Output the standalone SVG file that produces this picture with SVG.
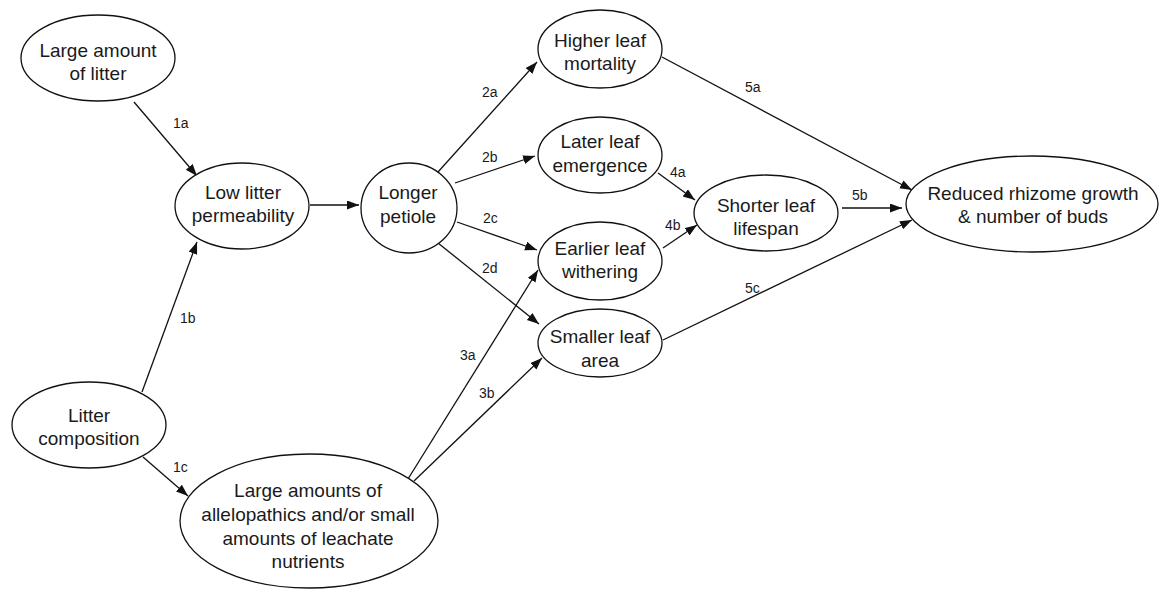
<svg xmlns="http://www.w3.org/2000/svg" width="1159" height="589" viewBox="0 0 1159 589">
<defs>
<marker id="arr" markerUnits="userSpaceOnUse" markerWidth="13" markerHeight="10" refX="12" refY="4.5" orient="auto">
<path d="M0,0 L12,4.5 L0,9 z" fill="#111"/>
</marker>
<style>
.n ellipse{fill:#fff;stroke:#111;stroke-width:1.3}
.n text{font-family:"Liberation Sans",Arial,sans-serif;font-size:19px;fill:#1a1a1a;text-anchor:middle}
#edges line{stroke:#111;stroke-width:1.3;marker-end:url(#arr)}
#edges text{font-family:"Liberation Sans",Arial,sans-serif;font-size:14px;fill:#1a1a1a}
</style>
</defs>
<rect width="1159" height="589" fill="#fff"/>
<g id="edges">
<line x1="134" y1="102" x2="197" y2="176"/>
<line x1="142" y1="392" x2="197" y2="242"/>
<line x1="143" y1="457" x2="188" y2="496"/>
<line x1="310" y1="205" x2="359" y2="205"/>
<line x1="438" y1="172" x2="537" y2="62"/>
<line x1="455" y1="183" x2="535" y2="156"/>
<line x1="457" y1="222" x2="537" y2="250"/>
<line x1="438" y1="243" x2="539" y2="324"/>
<line x1="408" y1="479" x2="538" y2="270"/>
<line x1="414" y1="481" x2="542" y2="358"/>
<line x1="658" y1="173" x2="695" y2="200"/>
<line x1="663" y1="248" x2="697" y2="225"/>
<line x1="662" y1="57" x2="912" y2="190"/>
<line x1="842" y1="208" x2="902" y2="208"/>
<line x1="663" y1="340" x2="912" y2="220"/>
<text x="173" y="128">1a</text>
<text x="180" y="323">1b</text>
<text x="173" y="472">1c</text>
<text x="482" y="97">2a</text>
<text x="482" y="162">2b</text>
<text x="483" y="223">2c</text>
<text x="482" y="273">2d</text>
<text x="460" y="360">3a</text>
<text x="479" y="398">3b</text>
<text x="670" y="177">4a</text>
<text x="665" y="230">4b</text>
<text x="745" y="92">5a</text>
<text x="852" y="200">5b</text>
<text x="745" y="293">5c</text>
</g>
<g id="n-large-litter" class="n"><ellipse cx="98" cy="58" rx="77" ry="43"/><text x="98" y="57">Large amount</text><text x="98" y="80">of litter</text></g>
<g id="n-low-perm" class="n"><ellipse cx="242" cy="206" rx="67" ry="43"/><text x="243" y="199">Low litter</text><text x="243" y="222">permeability</text></g>
<g id="n-composition" class="n"><ellipse cx="89" cy="425" rx="77" ry="43"/><text x="89" y="422">Litter</text><text x="89" y="445">composition</text></g>
<g id="n-allelo" class="n"><ellipse cx="309" cy="521" rx="129" ry="67"/><text x="308" y="497">Large amounts  of</text><text x="308" y="521">allelopathics  and/or  small</text><text x="308" y="545">amounts  of leachate</text><text x="308" y="568">nutrients</text></g>
<g id="n-petiole" class="n"><ellipse cx="409" cy="208" rx="48" ry="45"/><text x="408" y="199">Longer</text><text x="408" y="223">petiole</text></g>
<g id="n-mortality" class="n"><ellipse cx="600" cy="49" rx="62" ry="39"/><text x="600" y="47">Higher leaf</text><text x="600" y="70">mortality</text></g>
<g id="n-emergence" class="n"><ellipse cx="600" cy="155" rx="62" ry="38"/><text x="600" y="148">Later leaf</text><text x="600" y="172">emergence</text></g>
<g id="n-withering" class="n"><ellipse cx="600" cy="261" rx="62" ry="39"/><text x="600" y="255">Earlier leaf</text><text x="600" y="278">withering</text></g>
<g id="n-area" class="n"><ellipse cx="600" cy="343" rx="62" ry="34"/><text x="600" y="343">Smaller leaf</text><text x="600" y="367">area</text></g>
<g id="n-lifespan" class="n"><ellipse cx="766" cy="213" rx="72" ry="38"/><text x="766" y="212">Shorter  leaf</text><text x="766" y="235">lifespan</text></g>
<g id="n-rhizome" class="n"><ellipse cx="1032" cy="204" rx="126" ry="48"/><text x="1033" y="200">Reduced  rhizome  growth</text><text x="1033" y="223">&amp; number  of buds</text></g>
</svg>
